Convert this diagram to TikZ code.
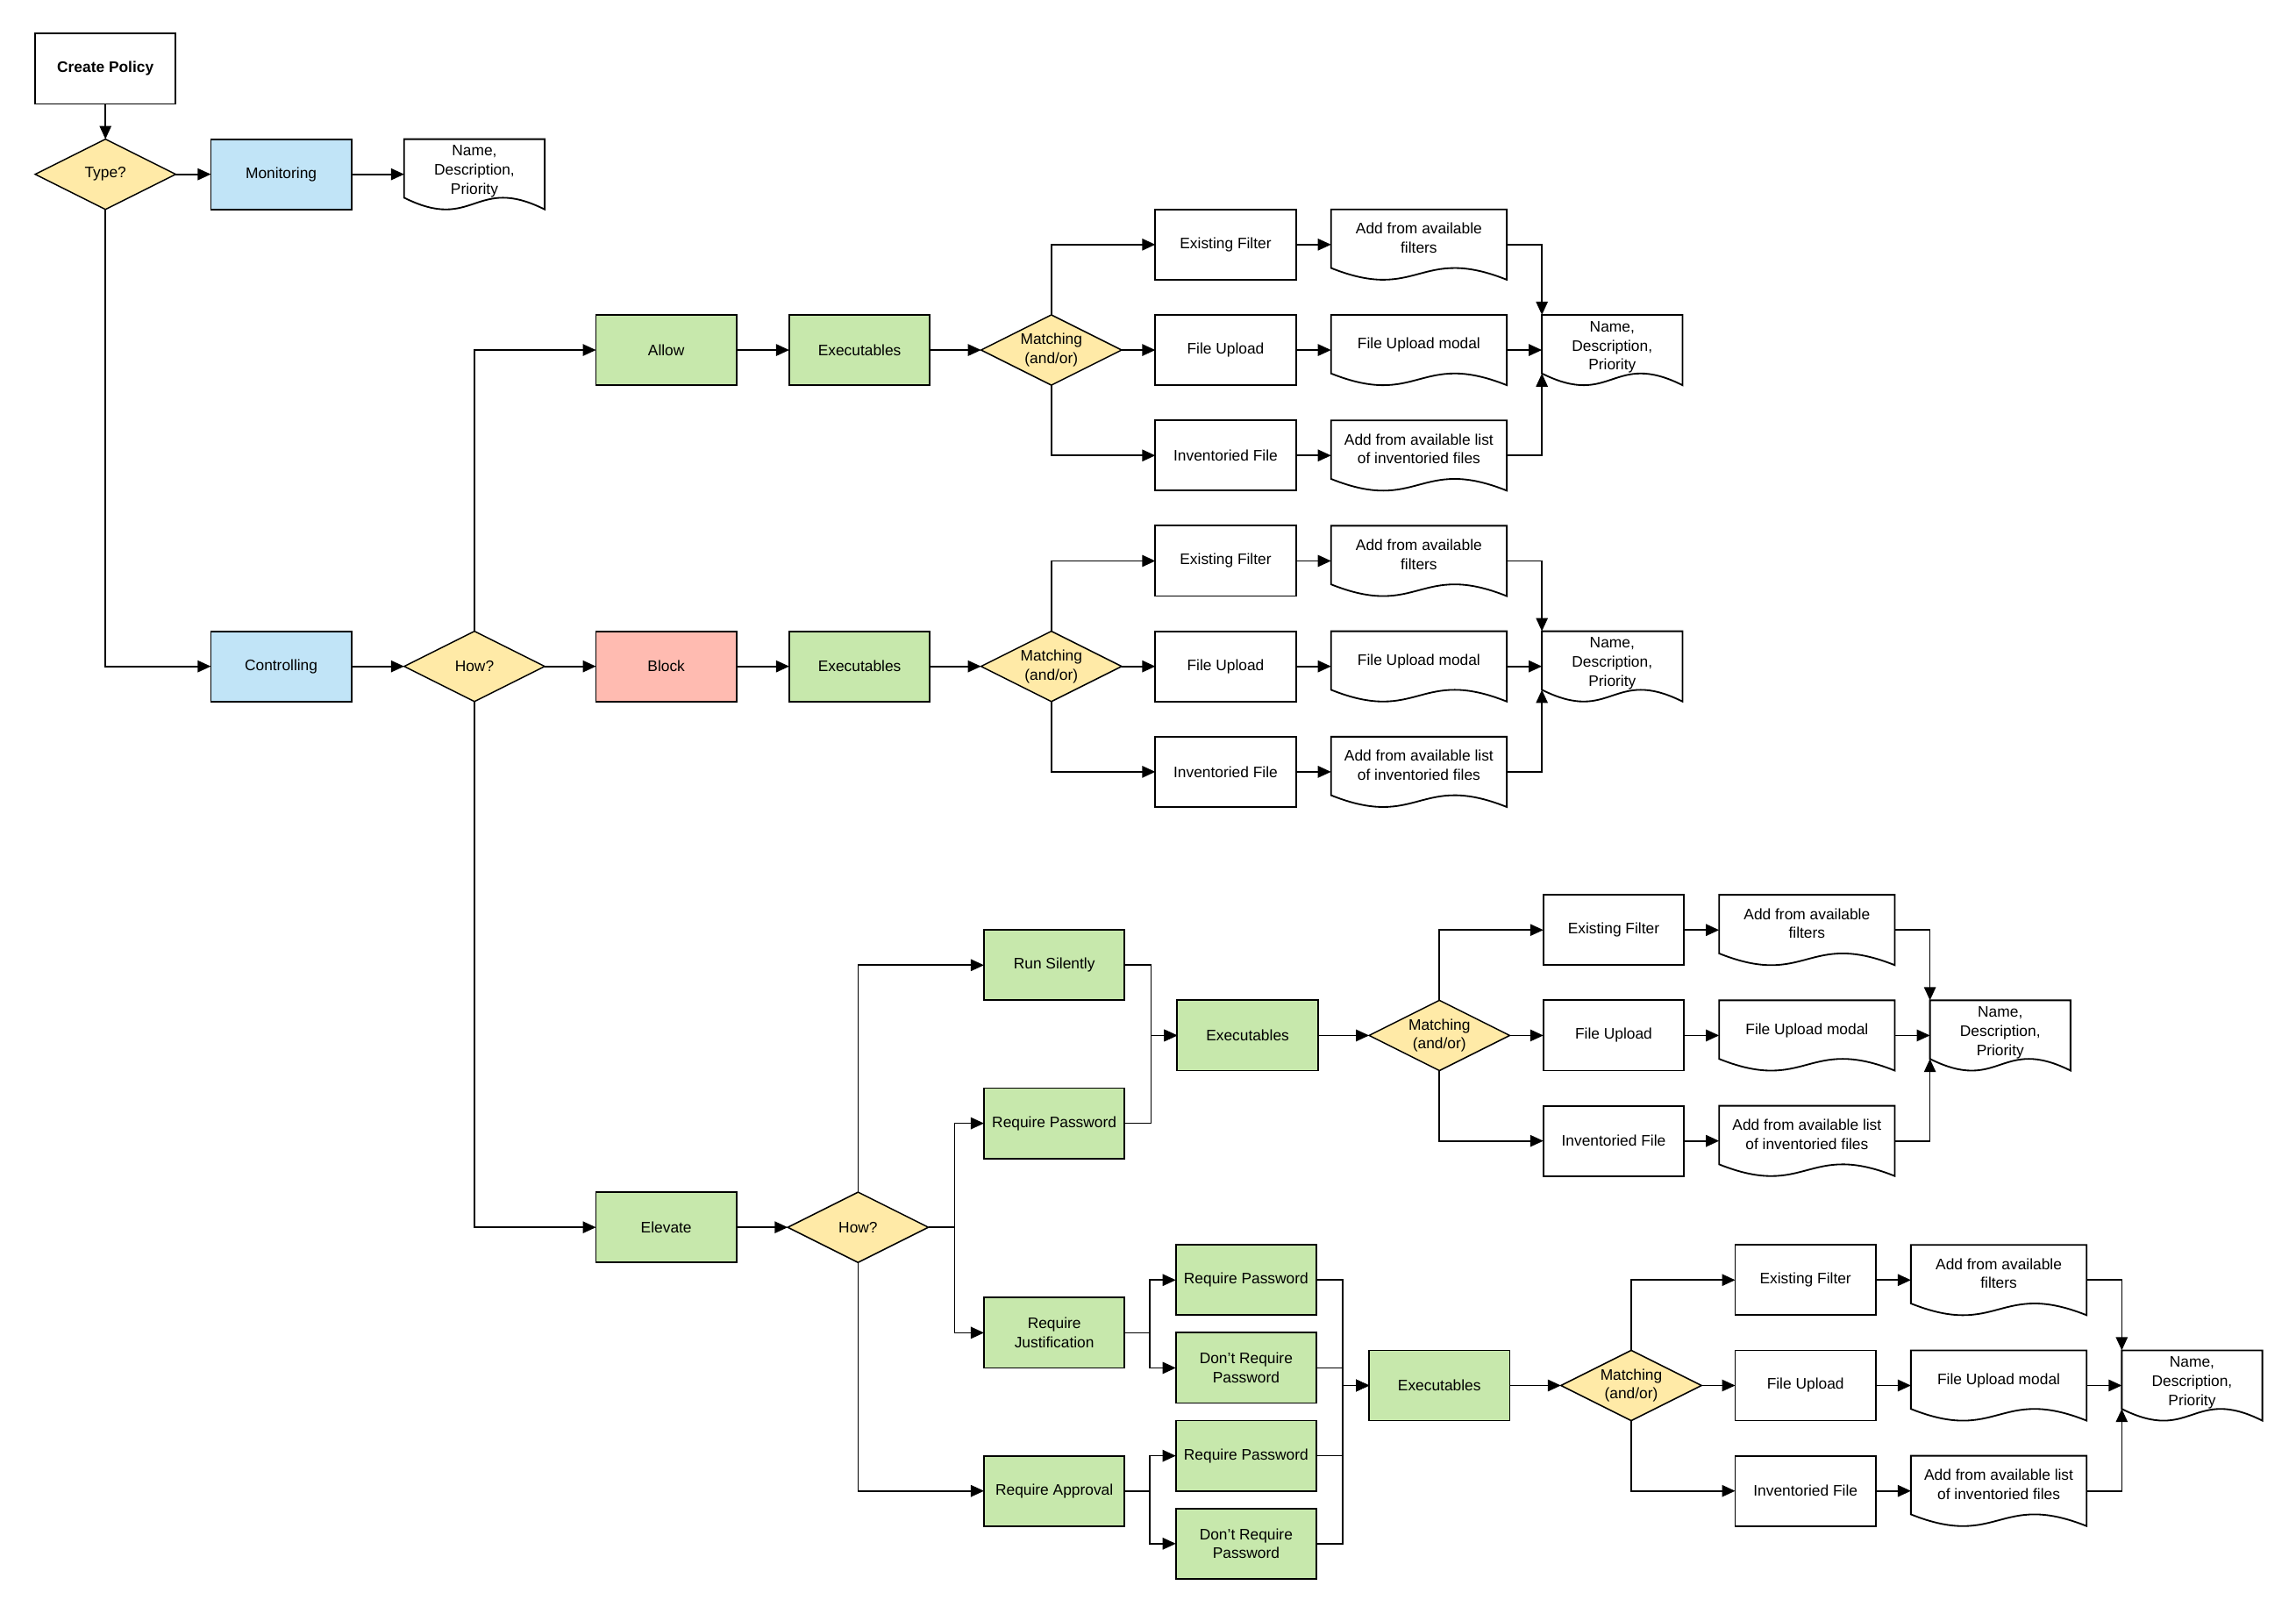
\documentclass[tikz,border=0pt]{standalone}
\usepackage{fontspec}
\setmainfont{Liberation Sans}
\usepackage{tikz}
\usetikzlibrary{shapes.geometric, arrows.meta, positioning, calc}
\definecolor{polblue}{RGB}{193,228,247}
\definecolor{polgreen}{RGB}{199,232,172}
\definecolor{polred}{RGB}{255,187,177}
\definecolor{polyellow}{RGB}{255,234,167}
\newcommand{\polfont}{\fontsize{10.4pt}{13pt}\selectfont}

\begin{document}
\begin{tikzpicture}[
    x=1pt, y=1pt,
    font=\polfont,
    wbox/.style={draw, line width=1.1pt, minimum width=96pt, minimum height=48pt,
                 align=center, inner xsep=1pt, inner ysep=2pt, outer sep=0pt},
    gbox/.style={wbox, fill=polgreen},
    bbox/.style={wbox, fill=polblue},
    decision/.style={draw, diamond, aspect=2, line width=0.9pt, fill=polyellow,
                     minimum width=96pt, minimum height=48pt, inner sep=0pt, outer sep=0pt,
                     align=center},
    docnode/.style={minimum width=120pt, minimum height=48pt, inner xsep=1pt, inner ysep=1pt,
                    outer sep=0pt, align=center, text depth=9pt},
    namedoc/.style={docnode, minimum width=96pt, text depth=6pt},
    docline/.style={line width=1.1pt},
    arrow/.style={-{Triangle[length=9pt, width=8pt]}, line width=1pt},
    node distance=24pt
  ]
    \path[use as bounding box, fill=white] (0,0) rectangle (1568,-1102);

    % Policy type
    \node[wbox, font=\polfont\bfseries] (create) at (72,-47) {Create Policy};
    \node[decision, below=of create]              (type)   {Type?};
    \node[bbox, right=of type]                    (mon)    {Monitoring};
    \node[namedoc, right=36pt of mon]             (monname) {Name,\\Description,\\Priority};

    \node[bbox] (ctrl) at (192,-455)              {Controlling};
    \node[decision, right=36pt of ctrl]           (how)    {How?};
    \node[wbox, fill=polred, right=35pt of how]   (block)  {Block};
    \node[gbox, above=168pt of block]             (allow)  {Allow};
    \node[gbox, below=335pt of block]             (elev)   {Elevate};

    % Elevate options
    \node[decision, right=35pt of elev]           (ehow)   {How?};
    \node[gbox] (rj) at (720,-910)                {Require\\Justification};
    \node[gbox, above=95pt of rj]                 (rp)     {Require Password};
    \node[gbox, above=60pt of rp]                 (rs)     {Run Silently};
    \node[gbox, below=60pt of rj]                 (ra)     {Require Approval};

    \node[gbox] (rjp) at (851,-874)               {Require Password};
    \node[gbox, below=12pt of rjp]                (rjn)    {Don't Require\\Password};
    \node[gbox, below=12pt of rjn]                (rap)    {Require Password};
    \node[gbox, below=12pt of rap]                (ran)    {Don't Require\\Password};

    % Executables -> matching -> filters -> name (same chain four times)
    \foreach \p/\x/\y in {al/587/239, bl/587/455, ea/852/707, eb/983/946} {
      \node[gbox] (\p-exe) at (\x,-\y)                 {Executables};
      \node[decision, right=35pt of \p-exe]  (\p-mat)  {Matching\\(and/or)};
      \node[wbox, right=23pt of \p-mat]      (\p-fu)   {File Upload};
      \node[wbox, above=of \p-fu]            (\p-ef)   {Existing Filter};
      \node[wbox, below=of \p-fu]            (\p-if)   {Inventoried File};
      \node[docnode, right=of \p-ef]         (\p-da)   {Add from available\\filters};
      \node[docnode, right=of \p-fu]         (\p-dm)   {File Upload modal};
      \node[docnode, right=of \p-if]         (\p-dl)   {Add from available list\\of inventoried files};
      \node[namedoc, right=of \p-dm]         (\p-nm)   {Name,\\Description,\\Priority};

      \draw[arrow] (\p-exe) -- (\p-mat);
      \draw[arrow] (\p-mat.north) |- (\p-ef);
      \draw[arrow] (\p-mat) -- (\p-fu);
      \draw[arrow] (\p-mat.south) |- (\p-if);
      \foreach \a/\b in {ef/da, fu/dm, if/dl, dm/nm}
        \draw[arrow] (\p-\a) -- (\p-\b);
      \draw[arrow] (\p-da.east) -| (\p-nm.north west);
      \draw[arrow] (\p-dl.east) -| ($(\p-nm.south west)+(0,8)$);

      \foreach \d in {da, dm, dl, nm}
        \draw[docline] ($(\p-\d.south west)+(0,8)$) |- (\p-\d.north east) -- (\p-\d.south east)
          .. controls ($(\p-\d.south)+(0,24)$) and ($(\p-\d.south)+(0,-16)$) .. ($(\p-\d.south west)+(0,8)$) -- cycle;
    }

    % document outline for the monitoring branch
    \draw[docline] ($(monname.south west)+(0,8)$) |- (monname.north east) -- (monname.south east)
      .. controls ($(monname.south)+(0,24)$) and ($(monname.south)+(0,-16)$) .. ($(monname.south west)+(0,8)$) -- cycle;

    \foreach \a/\b in {create/type, type/mon, mon/monname, ctrl/how, how/block,
                       allow/al-exe, block/bl-exe, elev/ehow}
      \draw[arrow] (\a) -- (\b);

    \draw[arrow] (type.south) |- (ctrl);
    \draw[arrow] (how.north) |- (allow);
    \draw[arrow] (how.south) |- (elev);

    \draw[arrow] (ehow.north) |- (rs);
    \draw[arrow] (ehow.south) |- (ra);
    \draw[arrow] (ehow.east) -- ++(18,0) |- (rp);
    \draw[arrow] (ehow.east) -- ++(18,0) |- (rj);

    \foreach \a in {rs, rp}
      \draw[arrow] (\a.east) -- ++(18,0) |- (ea-exe);
    \foreach \a/\b in {rj/rjp, rj/rjn, ra/rap, ra/ran}
      \draw[arrow] (\a.east) -- ++(17,0) |- (\b);
    \foreach \a in {rjp, rjn, rap, ran}
      \draw[arrow] (\a.east) -- ++(18,0) |- (eb-exe);

  \end{tikzpicture}
\end{document}
